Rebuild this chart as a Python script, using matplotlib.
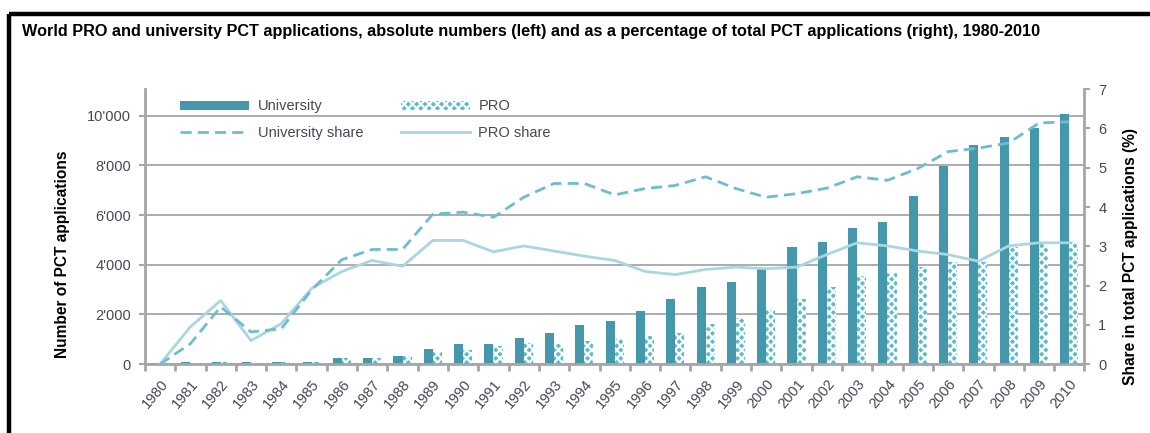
import numpy as np
import matplotlib
matplotlib.use('Agg')
import matplotlib.pyplot as plt
from matplotlib.patches import Patch
from matplotlib.lines import Line2D

# ─── Datos ────────────────────────────────────────────────────────────────────
YEARS = [str(y) for y in range(1980, 2011)]

UNIVERSITY = [60, 80, 80, 80, 90, 90, 240, 240, 336, 590, 808,
              808, 1036, 1252, 1588, 1723, 2153, 2624, 3096, 3324, 3863,
              4711, 4913, 5491, 5707, 6756, 7995, 8816, 9139, 9489, 10067]

PRO = [50, 60, 70, 60, 70, 70, 230, 230, 320, 471, 560,
       713, 848, 808, 930, 1025, 1130, 1240, 1600, 1845, 2170,
       2615, 3090, 3560, 3665, 3895, 4125, 4100, 4710, 4820, 4910]

UNIV_SHARE = [0.0, 0.52, 1.46, 0.82, 0.90, 1.89, 2.66, 2.92, 2.92, 3.82, 3.87,
              3.74, 4.25, 4.60, 4.60, 4.31, 4.47, 4.55, 4.77, 4.47, 4.25,
              4.34, 4.48, 4.77, 4.68, 4.98, 5.41, 5.50, 5.63, 6.14, 6.17]

PRO_SHARE = [0.0, 0.95, 1.62, 0.60, 1.03, 1.93, 2.36, 2.64, 2.49, 3.15, 3.15,
             2.86, 3.01, 2.88, 2.75, 2.64, 2.36, 2.28, 2.41, 2.47, 2.43,
             2.47, 2.79, 3.09, 3.01, 2.88, 2.79, 2.62, 3.01, 3.09, 3.09]

LEFT_TICKS = [0, 2000, 4000, 6000, 8000, 10000]
LEFT_TICK_LABELS = ["0", "2'000", "4'000", "6'000", "8'000", "10'000"]
RIGHT_TICKS = [0, 1, 2, 3, 4, 5, 6, 7]

# ─── Estilo ───────────────────────────────────────────────────────────────────
FUENTE = ['Liberation Sans', 'DejaVu Sans']
plt.rcParams['font.family'] = FUENTE
plt.rcParams['hatch.linewidth'] = 1.6

C_UNIV = '#4598ab'
C_PRO = '#5bbccf'
C_USHARE = '#6dbdd2'
C_PSHARE = '#a9d6e2'
C_GRIS = '#a6a6a6'
C_TXT = '#45475a'

fig = plt.figure(figsize=(11.5, 4.33), dpi=100)
ax = fig.add_axes([0.126, 0.159, 0.817, 0.635])
ax2 = ax.twinx()

x = np.arange(len(YEARS))
ancho = 0.3

ax.bar(x - ancho, UNIVERSITY, width=ancho, align='edge', color=C_UNIV,
       linewidth=0, zorder=2)
ax.bar(x, PRO, width=ancho, align='edge', color=C_PRO, edgecolor='white',
       hatch='xxxx', linewidth=0, zorder=2)

ax2.plot(x, PRO_SHARE, color=C_PSHARE, linewidth=2.0)
ax2.plot(x, UNIV_SHARE, color=C_USHARE, linewidth=2.0, linestyle=(0, (4, 2.2)))

# ─── Ejes ─────────────────────────────────────────────────────────────────────
ax.set_xlim(-0.5, len(YEARS) - 0.5)
ax.set_ylim(0, 11070)
ax2.set_ylim(0, 7)

ax.set_yticks(LEFT_TICKS)
ax.set_yticklabels(LEFT_TICK_LABELS)
ax2.set_yticks(RIGHT_TICKS)

ax.set_xticks(np.arange(-0.5, len(YEARS)), labels=[])
ax.set_xticks(x, minor=True)
ax.set_xticklabels(YEARS, minor=True, rotation=50, ha='right',
                   rotation_mode='anchor', fontsize=10.5, color=C_TXT)
ax.tick_params(axis='x', which='minor', length=0, pad=9)
ax.tick_params(axis='x', which='major', length=5, width=2, color=C_GRIS)
ax.tick_params(axis='y', length=4, width=1.5, color=C_GRIS,
               labelsize=10.5, labelcolor=C_TXT, pad=6)
ax2.tick_params(axis='y', length=4, width=1.5, color=C_GRIS,
                labelsize=10.5, labelcolor=C_TXT, pad=6)

ax.grid(axis='y', color=C_GRIS, linewidth=1.3, zorder=0)
ax.set_axisbelow(True)

for a in (ax, ax2):
    a.spines['top'].set_visible(False)
    for s in ('left', 'right', 'bottom'):
        a.spines[s].set_color(C_GRIS)
        a.spines[s].set_linewidth(2)
ax.spines['right'].set_visible(False)
ax2.spines['left'].set_visible(False)
ax2.spines['bottom'].set_visible(False)

ax.set_ylabel('Number of PCT applications', fontsize=11.2, fontweight='bold')
ax.yaxis.set_label_coords(-0.08, 0.40)
ax2.set_ylabel('Share in total PCT applications (%)', fontsize=11.2,
               fontweight='bold')
ax2.yaxis.set_label_coords(1.041, 0.393)

# ─── Leyenda ──────────────────────────────────────────────────────────────────
handles = [
    Patch(facecolor=C_UNIV, linewidth=0),
    Line2D([], [], color=C_USHARE, linewidth=2, linestyle=(0, (4, 2.2))),
    Patch(facecolor=C_PRO, edgecolor='white', hatch='xxxx', linewidth=0),
    Line2D([], [], color=C_PSHARE, linewidth=2),
]
labels = ['University', 'University share', 'PRO', 'PRO share']
ax2.legend(handles, labels, ncol=2, loc='upper left',
           bbox_to_anchor=(0.027, 1.0), frameon=False, fontsize=10.5,
           handlelength=4.7, handleheight=0.55, handletextpad=0.6,
           columnspacing=2.6, labelspacing=0.85, borderpad=0.2,
           labelcolor=C_TXT)

# ─── Título y marco ───────────────────────────────────────────────────────────
fig.text(0.019, 0.917, 'World PRO and university PCT applications, absolute '
         'numbers (left) and as a percentage of total PCT applications '
         '(right), 1980-2010', fontsize=11.7, fontweight='bold',
         ha='left', va='baseline')

fig.add_artist(Line2D([0.0074, 1.0], [0.968, 0.968], color='black',
                      linewidth=3.2, solid_capstyle='butt'))
fig.add_artist(Line2D([0.0078, 0.0078], [0.0, 0.968], color='black',
                      linewidth=3.2, solid_capstyle='butt'))

fig.savefig('out.png', dpi=100, facecolor='white')
